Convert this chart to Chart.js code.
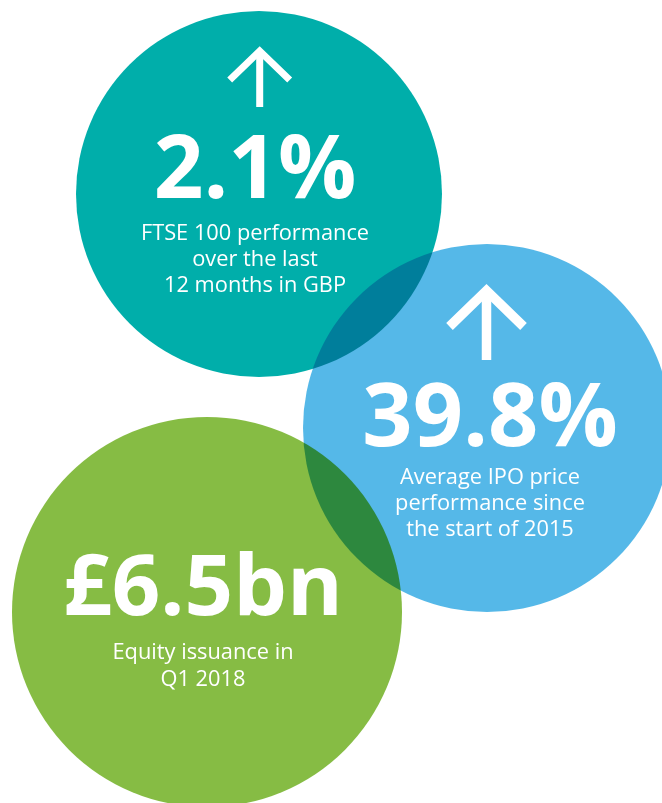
<!DOCTYPE html>
<html>
<head>
<meta charset="utf-8">
<script src="https://cdn.jsdelivr.net/npm/chart.js@4.4.1/dist/chart.umd.min.js"></script>
<style>
  html, body { margin: 0; padding: 0; background: #ffffff; }
  #wrap { width: 662px; height: 803px; position: relative; }
</style>
</head>
<body>
<div id="wrap"><canvas id="c"></canvas></div>
<script>
// ---- data ----
const metrics = ['FTSE 100', 'IPO price', 'Equity issuance'];
const values = [2.1, 39.8, 6.5];
const valueLabels = ['2.1%', '39.8%', '£6.5bn'];
const captions = [
  ['FTSE 100 performance', 'over the last', '12 months in GBP'],
  ['Average IPO price', 'performance since', 'the start of 2015'],
  ['Equity issuance in', 'Q1 2018']
];
const trends = ['up', 'up', null];

// ---- layout (pixel coordinates in a 662 x 803 space) ----
const colors = ['#00aeaa', '#55b8e8', '#86bc44'];
const circles = [
  { x: 259, y: 194, r: 183 },
  { x: 487, y: 428, r: 184 },
  { x: 207, y: 612, r: 195 }
];
const textLayout = [
  { cx: 255, valueY: 198, valueSize: 87, capY: 240, capStep: 26, capSize: 21.8,
    arrow: { x: 259.7, tip: 51, wingDx: 30, wingY: 80, bottom: 107, w: 7 } },
  { cx: 490, valueY: 446, valueSize: 88, capY: 484, capStep: 26, capSize: 21.8,
    arrow: { x: 486.5, tip: 290.7, wingDx: 37, wingY: 326.5, bottom: 360, w: 9.5 } },
  { cx: 203, valueY: 615, valueSize: 85, capY: 659, capStep: 27, capSize: 21.8, arrow: null }
];

const bubbleData = circles.map(c => ({ x: c.x, y: c.y, r: c.r }));

const multiplyPlugin = {
  id: 'multiply',
  beforeDraw(chart) {
    const ctx = chart.ctx;
    ctx.save();
    ctx.fillStyle = '#ffffff';
    ctx.fillRect(0, 0, chart.width, chart.height);
    ctx.restore();
  },
  beforeDatasetsDraw(chart) {
    chart.ctx.save();
    chart.ctx.globalCompositeOperation = 'multiply';
  },
  afterDatasetsDraw(chart) {
    chart.ctx.restore();
    const ctx = chart.ctx;
    const xs = chart.scales.x, ys = chart.scales.y;
    ctx.save();
    ctx.fillStyle = '#ffffff';
    ctx.strokeStyle = '#ffffff';
    ctx.textAlign = 'center';
    ctx.textBaseline = 'alphabetic';
    textLayout.forEach((t, i) => {
      const cx = xs.getPixelForValue(t.cx);
      if (trends[i] === 'up' && t.arrow) {
        const a = t.arrow;
        const ax = xs.getPixelForValue(a.x);
        ctx.lineWidth = a.w;
        ctx.lineCap = 'butt';
        ctx.lineJoin = 'miter';
        ctx.beginPath();
        ctx.moveTo(ax - a.wingDx, ys.getPixelForValue(a.wingY));
        ctx.lineTo(ax, ys.getPixelForValue(a.tip));
        ctx.lineTo(ax + a.wingDx, ys.getPixelForValue(a.wingY));
        ctx.stroke();
        ctx.beginPath();
        ctx.moveTo(ax, ys.getPixelForValue(a.tip));
        ctx.lineTo(ax, ys.getPixelForValue(a.bottom));
        ctx.stroke();
      }
      ctx.font = '700 ' + t.valueSize + 'px "Open Sans"';
      ctx.fillText(valueLabels[i], cx, ys.getPixelForValue(t.valueY));
      ctx.font = '400 ' + t.capSize + 'px "Open Sans"';
      captions[i].forEach((line, k) => {
        ctx.fillText(line, cx, ys.getPixelForValue(t.capY + k * t.capStep));
      });
    });
    ctx.restore();
  }
};

new Chart(document.getElementById('c'), {
  type: 'bubble',
  data: {
    labels: metrics,
    datasets: [{
      label: 'Key figures',
      data: bubbleData,
      backgroundColor: colors,
      borderWidth: 0,
      hoverBorderWidth: 0,
      hoverRadius: 0
    }]
  },
  options: {
    responsive: true,
    maintainAspectRatio: false,
    animation: false,
    events: [],
    layout: { padding: 0, autoPadding: false },
    plugins: { legend: { display: false }, tooltip: { enabled: false } },
    scales: {
      x: { type: 'linear', min: 0, max: 662, display: false },
      y: { type: 'linear', min: 0, max: 803, reverse: true, display: false }
    }
  },
  plugins: [multiplyPlugin]
});
</script>
</body>
</html>
